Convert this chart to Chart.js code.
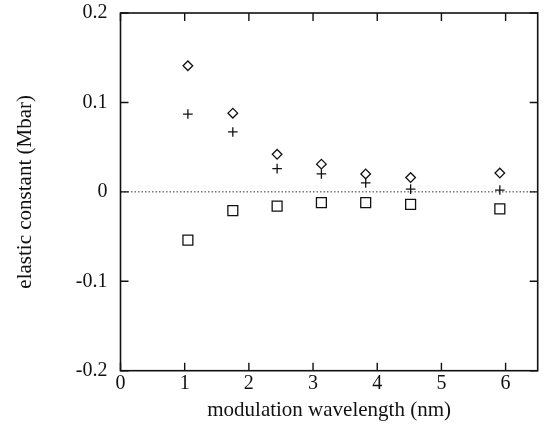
<!DOCTYPE html>
<html>
<head>
<meta charset="utf-8">
<script src="https://cdn.jsdelivr.net/npm/chart.js@4"></script>
<style>
html,body{margin:0;padding:0;background:#fff;}
#wrap{width:546px;height:425px;position:relative;}
</style>
</head>
<body>
<div id="wrap"><canvas id="c" width="546" height="425"></canvas></div>
<script>
// Data
const wavelength = [1.05, 1.75, 2.44, 3.13, 3.82, 4.52, 5.91];
const diamondSeries = [0.141, 0.088, 0.042, 0.031, 0.020, 0.016, 0.021];
const plusSeries = [0.087, 0.067, 0.026, 0.020, 0.010, 0.003, 0.002];
const squareSeries = [-0.054, -0.021, -0.016, -0.012, -0.012, -0.014, -0.019];
const xTickValues = [0, 1, 2, 3, 4, 5, 6];
const xTickLabels = ['0', '1', '2', '3', '4', '5', '6'];
const yTickValues = [-0.2, -0.1, 0, 0.1, 0.2];
const yTickLabels = ['-0.2', '-0.1', '0', '0.1', '0.2'];

const toPts = (ys) => wavelength.map((x, i) => ({x: x, y: ys[i]}));
const FONT = '"Liberation Serif", "Times New Roman", serif';

const framePlugin = {
  id: 'frame',
  beforeDatasetsDraw(chart) {
    const {ctx, chartArea: a, scales: {y}} = chart;
    const py = y.getPixelForValue(0);
    ctx.save();
    ctx.strokeStyle = '#333';
    ctx.lineWidth = 1;
    ctx.setLineDash([1.5, 2]);
    ctx.beginPath();
    ctx.moveTo(a.left, py);
    ctx.lineTo(a.right, py);
    ctx.stroke();
    ctx.restore();
  },
  afterDraw(chart) {
    const {ctx, chartArea: a, scales: {x, y}} = chart;
    const tl = 8;
    ctx.save();
    ctx.strokeStyle = '#111';
    ctx.lineWidth = 1.6;
    ctx.strokeRect(a.left, a.top, a.right - a.left, a.bottom - a.top);
    ctx.lineWidth = 1.4;
    ctx.beginPath();
    xTickValues.forEach(v => {
      const px = x.getPixelForValue(v);
      ctx.moveTo(px, a.bottom); ctx.lineTo(px, a.bottom - tl);
      ctx.moveTo(px, a.top); ctx.lineTo(px, a.top + tl);
    });
    yTickValues.forEach(v => {
      const py = y.getPixelForValue(v);
      ctx.moveTo(a.left, py); ctx.lineTo(a.left + tl, py);
      ctx.moveTo(a.right, py); ctx.lineTo(a.right - tl, py);
    });
    ctx.stroke();
    ctx.restore();
  }
};

const common = {
  showLine: false,
  borderColor: '#111',
  backgroundColor: 'rgba(0,0,0,0)',
  borderWidth: 1.3,
  pointBorderWidth: 1.3,
};

new Chart(document.getElementById('c'), {
  type: 'scatter',
  data: {
    datasets: [
      Object.assign({label: 'diamond', data: toPts(diamondSeries), pointStyle: 'rectRot', pointRadius: 4.8}, common),
      Object.assign({label: 'plus', data: toPts(plusSeries), pointStyle: 'cross', pointRadius: 4.8}, common),
      Object.assign({label: 'square', data: toPts(squareSeries), pointStyle: 'rect', pointRadius: 7}, common),
    ]
  },
  options: {
    responsive: false,
    animation: false,
    devicePixelRatio: 1,
    layout: {padding: {left: 0, right: 2, top: 13, bottom: 0}},
    plugins: {legend: {display: false}, tooltip: {enabled: false}},
    scales: {
      x: {
        type: 'linear',
        min: 0, max: 6.5,
        afterBuildTicks: (s) => { s.ticks = xTickValues.map(v => ({value: v})); },
        afterFit: (s) => { s.height = 54.3; s.paddingLeft = 0; s.paddingRight = 0; },
        grid: {display: false, drawTicks: false},
        border: {display: false},
        ticks: {
          color: '#111',
          font: {family: FONT, size: 20},
          padding: 1,
          maxRotation: 0,
          callback: (v) => { const i = xTickValues.indexOf(v); return i >= 0 ? xTickLabels[i] : ''; }
        },
        title: {
          display: true,
          text: 'modulation wavelength (nm)',
          color: '#111',
          font: {family: FONT, size: 21},
          padding: {top: 0, bottom: 2.4}
        }
      },
      y: {
        type: 'linear',
        min: -0.2, max: 0.2,
        afterBuildTicks: (s) => { s.ticks = yTickValues.map(v => ({value: v})); },
        afterFit: (s) => { s.width = 120.5; s.paddingTop = 0; s.paddingBottom = 0; },
        grid: {display: false, drawTicks: false},
        border: {display: false},
        ticks: {
          color: '#111',
          font: {family: FONT, size: 20},
          padding: 13,
          callback: (v) => {
            let best = 0;
            yTickValues.forEach((t, i) => { if (Math.abs(t - v) < Math.abs(yTickValues[best] - v)) best = i; });
            return yTickLabels[best];
          }
        },
        title: {
          display: true,
          text: 'elastic constant (Mbar)',
          color: '#111',
          font: {family: FONT, size: 21},
          padding: {top: 12.4, bottom: 0}
        }
      }
    }
  },
  plugins: [framePlugin]
});
</script>
</body>
</html>
